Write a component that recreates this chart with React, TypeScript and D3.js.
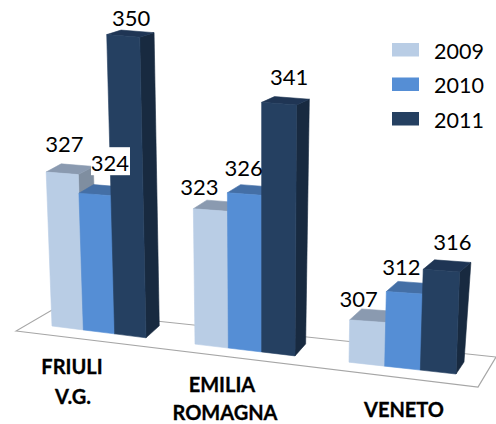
import React from "react";
import * as d3 from "d3";

const regions = ["FRIULI V.G.", "EMILIA ROMAGNA", "VENETO"];
const years = ["2009", "2010", "2011"];
const values2009 = [327, 323, 307];
const values2010 = [324, 326, 312];
const values2011 = [350, 341, 316];
const seriesValues = [values2009, values2010, values2011];

const frontColors = ["#b9cde5", "#558ed5", "#254061"];
const topColors = ["#8a9ab0", "#446fa6", "#1f3554"];
const sideColors = ["#7f8ea0", "#3b6395", "#182a40"];

// hand placed nudges of the value labels, [series][region]
const labelDx = [
  [2, -11, -9],
  [15, -1, -3],
  [8, 10, 11],
];
const labelDy = [
  [-20, -14, -13],
  [-22, -17, -17],
  [-9, -17, -19],
];

const GROUP_STEP = 4.6;
const FONT = "Lato, 'Open Sans', sans-serif";

// floor position along the front edge, in bar slots
const xBase = d3
  .scaleLinear()
  .domain([0, 3, 4.6, 7.6, 9.2, 12.2])
  .range([52, 146, 195, 295, 349, 456]);
const yBase = d3.scaleLinear().domain([0, 12.2]).range([326, 374]);
const yValue = d3.scaleLinear().domain([300, 350]).range([339.4, 29.4]);
const topDepthX = d3.scaleLinear().domain([0, 12.2]).range([15, 11]);
const baseDepthX = d3.scaleLinear().domain([0, 12.2]).range([15, 8]);

// verticals converge towards the bottom of the picture
const lean = (x: number, h: number) => x + (x - 262) * 0.00018 * h;

const polygon = d3.line<[number, number]>().curve(d3.curveLinearClosed);

function Bar({ s, g }: { s: number; g: number }) {
  const v = seriesValues[s][g];
  const u0 = g * GROUP_STEP + s;
  const u1 = u0 + 1;
  const ty0 = yValue(v) + 2.6 * u0;
  const ty1 = yValue(v) + 2.6 * u1;
  const bx0 = xBase(u0);
  const bx1 = xBase(u1);
  const by0 = yBase(u0);
  const by1 = yBase(u1);
  const tx0 = lean(bx0, by0 - ty0);
  const tx1 = lean(bx1, by1 - ty1);
  const dyTop = -(12 - (by0 - ty0) * 0.025);
  const dxTop = topDepthX(u0);

  const front: [number, number][] = [
    [tx0, ty0],
    [tx1, ty1],
    [bx1, by1],
    [bx0, by0],
  ];
  const top: [number, number][] = [
    [tx0, ty0],
    [tx0 + dxTop, ty0 + dyTop],
    [tx1 + dxTop, ty1 + dyTop],
    [tx1, ty1],
  ];
  const side: [number, number][] = [
    [tx1, ty1],
    [tx1 + dxTop, ty1 + dyTop],
    [bx1 + baseDepthX(u1), by1 - 12],
    [bx1, by1],
  ];
  return (
    <g strokeWidth={0.6}>
      <path d={polygon(side) ?? ""} fill={sideColors[s]} stroke={sideColors[s]} />
      <path d={polygon(top) ?? ""} fill={topColors[s]} stroke={topColors[s]} />
      <path d={polygon(front) ?? ""} fill={frontColors[s]} stroke={frontColors[s]} />
    </g>
  );
}

function ValueLabel({ s, g }: { s: number; g: number }) {
  const v = seriesValues[s][g];
  const u0 = g * GROUP_STEP + s;
  const ty = yValue(v) + 2.6 * u0;
  const h = yBase(u0) - ty;
  const cx = (lean(xBase(u0), h) + lean(xBase(u0 + 1), h)) / 2 + labelDx[s][g];
  const y = ty + labelDy[s][g];
  // the 324 label sits on a white box in the original
  const boxed = s === 1 && g === 0;
  return (
    <g>
      {boxed && <rect x={cx - 19} y={y - 24} width={39} height={28} fill="#fff" />}
      <text x={cx} y={y} textAnchor="middle" fontSize={22} fill="#000" fontFamily={FONT}>
        {v}
      </text>
    </g>
  );
}

export default function App() {
  const floor = polygon([
    [16, 331],
    [478, 387],
    [496, 357],
    [52, 310],
  ]);
  const legendY = d3.scalePoint<string>().domain(years).range([50, 119]);
  const order = d3.range(regions.length);

  return (
    <svg
      width={496}
      height={424}
      viewBox="0 0 496 424"
      style={{ position: "absolute", left: 0, top: 0, background: "#fff" }}
    >
      <path d={floor ?? ""} fill="#fff" stroke="#a6a6a6" strokeWidth={1.2} />

      {order.map((g) => (
        <g key={regions[g]}>
          {years.map((yr, s) => (
            <Bar key={yr} s={s} g={g} />
          ))}
        </g>
      ))}

      {order.map((g) =>
        years.map((yr, s) => <ValueLabel key={`${g}-${yr}`} s={s} g={g} />)
      )}

      <g
        fontFamily={FONT}
        fontWeight={700}
        fontSize={20}
        fill="#000"
        stroke="#000"
        strokeWidth={0.3}
        textAnchor="middle"
      >
        <text x={72} y={374}>FRIULI</text>
        <text x={73} y={404}>V.G.</text>
        <text x={222} y={392}>EMILIA</text>
        <text x={225} y={420}>ROMAGNA</text>
        <text x={404} y={417}>VENETO</text>
      </g>

      {years.map((yr, s) => (
        <g key={yr}>
          <rect x={392} y={(legendY(yr) ?? 0) - 7} width={27} height={13.5} fill={frontColors[s]} />
          <text x={434} y={(legendY(yr) ?? 0) + 8.5} fontSize={21.5} fill="#000" fontFamily={FONT}>
            {yr}
          </text>
        </g>
      ))}
    </svg>
  );
}
